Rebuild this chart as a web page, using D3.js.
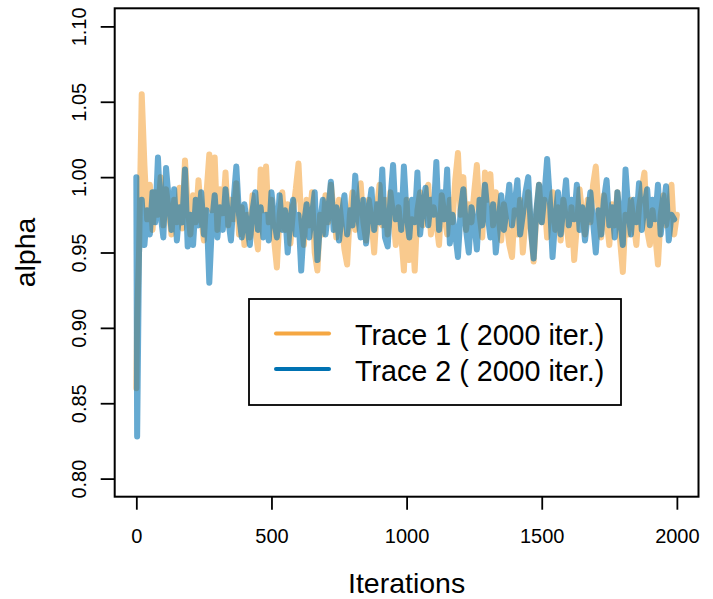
<!DOCTYPE html>
<html>
<head>
<meta charset="utf-8">
<script src="https://cdn.jsdelivr.net/npm/d3@7"></script>
<style>
  body { margin: 0; background: #fff; }
  text { font-family: "Liberation Sans", Arial, sans-serif; }
</style>
</head>
<body>
<div id="diagram"></div>
<script>
// iteration index of each stored value (a burn-in point at 3, then every 10 iterations)
var iterations = [0, 3].concat(d3.range(10, 2001, 10));

// trace 1 (orange)
var trace1 = [
  0.860, 0.905,
  0.950, 1.055, 1.008, 0.972, 0.995, 0.965, 0.990, 0.975, 1.000,
  0.968, 0.992, 0.978, 0.962, 0.985, 0.970, 0.993, 0.966, 1.011, 0.980,
  0.962, 0.988, 0.970, 0.998, 0.974, 0.958, 0.990, 1.015, 0.978, 1.013,
  0.965, 0.992, 0.976, 1.003, 0.968, 0.985, 0.972, 0.996, 0.962, 0.980,
  0.955, 0.975, 0.960, 0.988, 0.966, 0.952, 1.005, 0.978, 1.007, 0.970,
  0.985, 0.958, 0.940, 0.975, 0.990, 0.965, 0.982, 0.956, 0.978, 0.992,
  1.009, 0.972, 0.955, 0.985, 0.968, 0.990, 0.950, 0.938, 0.975, 0.962,
  0.988, 0.970, 0.995, 0.978, 0.960, 0.985, 0.968, 0.952, 0.942, 0.975,
  0.990, 0.965, 0.982, 0.996, 0.970, 0.958, 0.985, 0.972, 0.950, 0.980,
  0.995, 0.968, 0.985, 0.962, 0.990, 0.975, 0.955, 0.980, 0.962, 0.938,
  0.985, 0.945, 0.972, 0.938, 0.978, 0.990, 0.968, 0.985, 0.995, 0.962,
  0.980, 0.970, 0.955, 0.988, 0.975, 0.962, 0.985, 0.970, 0.998, 1.016,
  0.975, 1.000, 0.965, 0.982, 0.970, 0.990, 1.008, 0.975, 0.960, 1.003,
  0.985, 1.002, 0.968, 0.990, 0.975, 0.958, 0.982, 0.970, 0.955, 0.947,
  0.978, 0.962, 0.985, 0.950, 0.972, 0.990, 0.965, 0.944, 0.975, 0.995,
  0.970, 0.985, 0.960, 0.978, 0.990, 0.965, 0.980, 0.958, 0.985, 0.972,
  0.955, 0.980, 0.945, 0.968, 0.992, 0.975, 0.962, 0.985, 0.970, 0.995,
  1.007, 0.978, 0.960, 0.988, 0.972, 0.955, 0.982, 0.968, 0.990, 0.958,
  0.937, 0.975, 0.962, 0.985, 0.970, 0.955, 0.980, 0.992, 1.003, 0.965,
  0.955, 0.978, 0.962, 0.942, 0.975, 0.988, 0.968, 0.980, 0.995, 0.962,
  0.975
];

// trace 2 (blue)
var trace2 = [
  1.000, 0.828,
  0.950, 0.985, 0.955, 0.978, 0.962, 0.990, 0.970, 1.013, 0.975,
  0.960, 1.006, 0.985, 0.965, 0.992, 0.958, 0.980, 0.970, 1.005,
  0.954, 0.975, 0.955, 0.985, 0.968, 0.990, 0.962, 0.978, 0.930, 0.970,
  0.988, 0.960, 0.980, 0.965, 0.992, 0.972, 0.958, 0.985, 1.007, 0.975,
  0.960, 0.982, 0.968, 0.955, 0.978, 0.990, 0.965, 0.980, 0.960, 0.975,
  0.958, 0.990, 0.972, 0.960, 0.988, 0.965, 0.978, 0.950, 0.972, 0.985,
  0.962, 0.975, 0.938, 0.968, 0.982, 0.960, 0.975, 0.990, 0.945, 0.970,
  0.985, 0.962, 0.978, 0.997, 0.965, 0.980, 0.958, 0.975, 0.988, 0.962,
  0.978, 0.968, 1.001, 0.975, 0.960, 0.985, 0.956, 0.978, 0.992, 0.965,
  0.982, 0.970, 1.005, 0.960, 0.954, 0.985, 1.008, 0.972, 0.988, 0.965,
  1.007, 0.975, 0.960, 0.985, 0.970, 1.003, 0.962, 0.980, 0.993, 0.968,
  0.985, 0.975, 1.010, 0.965, 0.990, 0.972, 1.005, 0.956, 0.975, 0.962,
  0.947, 0.978, 0.992, 0.965, 0.950, 0.980, 0.970, 0.952, 0.985, 0.968,
  0.995, 0.975, 0.960, 0.982, 0.950, 0.970, 0.988, 0.965, 0.978, 0.995,
  0.968, 0.982, 0.998, 0.962, 0.975, 0.990, 1.000, 0.965, 0.946, 0.978,
  0.995, 0.970, 0.988, 1.012, 0.985, 0.947, 0.972, 0.990, 0.962, 0.980,
  0.998, 0.968, 0.985, 0.972, 0.995, 0.965, 0.980, 0.958, 0.975, 0.990,
  0.970, 0.950, 0.978, 0.962, 0.985, 0.998, 0.968, 0.980, 0.960, 0.990,
  0.972, 0.955, 1.005, 0.978, 0.962, 0.985, 0.970, 0.996, 0.965, 0.980,
  0.992, 0.968, 0.985, 0.972, 0.995, 0.962, 0.978, 0.994, 0.958, 0.975,
  0.972
];

var xTicks = [0, 500, 1000, 1500, 2000];
var yTicks = [0.80, 0.85, 0.90, 0.95, 1.00, 1.05, 1.10];
var legendLabels = ["Trace 1 ( 2000 iter.)", "Trace 2 ( 2000 iter.)"];
var colors = ["#F5A742", "#0072B2"];

var W = 713, H = 599;
var box = {left: 114.7, right: 698.5, top: 8.3, bottom: 496.7};

var svg = d3.select("#diagram")
  .append("svg")
  .attr("width", W)
  .attr("height", H);

// R style 4% padding around xlim / ylim
var x = d3.scaleLinear()
  .domain([-80, 2080])
  .range([box.left, box.right]);
var y = d3.scaleLinear()
  .domain([0.788, 1.112])
  .range([box.bottom, box.top]);

// traces
var line = d3.line()
  .x(function(d, i) { return x(iterations[i]); })
  .y(function(d) { return y(d); });

[trace1, trace2].forEach(function(tr, k) {
  svg.append("path")
    .datum(tr)
    .attr("d", line)
    .attr("fill", "none")
    .attr("stroke", colors[k])
    .attr("stroke-opacity", 0.6)
    .attr("stroke-width", 6)
    .attr("stroke-linejoin", "round")
    .attr("stroke-linecap", "round");
});

// box
svg.append("rect")
  .attr("x", box.left)
  .attr("y", box.top)
  .attr("width", box.right - box.left)
  .attr("height", box.bottom - box.top)
  .attr("fill", "none")
  .attr("stroke", "#000")
  .attr("stroke-width", 2);

// x axis
var gx = svg.append("g")
  .attr("transform", "translate(0," + box.bottom + ")")
  .call(d3.axisBottom(x).tickValues(xTicks).tickSize(13).tickFormat(d3.format("d")));
gx.select(".domain").remove();
gx.selectAll(".tick line").attr("stroke-width", 1.8);
gx.selectAll(".tick text")
  .attr("y", 46.3)
  .attr("dy", null)
  .style("font-size", "20px")
  .style("font-family", "'Liberation Sans', Arial, sans-serif");

// y axis
var gy = svg.append("g")
  .attr("transform", "translate(" + box.left + ",0)")
  .call(d3.axisLeft(y).tickValues(yTicks).tickSize(14).tickFormat(d3.format(".2f")));
gy.select(".domain").remove();
gy.selectAll(".tick line").attr("stroke-width", 1.8);
gy.selectAll(".tick text")
  .attr("transform", "rotate(-90)")
  .attr("x", 0)
  .attr("y", -28.7)
  .attr("dy", null)
  .attr("text-anchor", "middle")
  .style("font-size", "20px")
  .style("font-family", "'Liberation Sans', Arial, sans-serif");

// axis titles
svg.append("text")
  .attr("x", (box.left + box.right) / 2)
  .attr("y", 593)
  .attr("text-anchor", "middle")
  .style("font-size", "28.5px")
  .text("Iterations");

svg.append("text")
  .attr("transform", "translate(35," + ((box.top + box.bottom) / 2) + ") rotate(-90)")
  .attr("text-anchor", "middle")
  .style("font-size", "28.5px")
  .text("alpha");

// legend
var lg = svg.append("g");
lg.append("rect")
  .attr("x", 249)
  .attr("y", 299)
  .attr("width", 372)
  .attr("height", 106)
  .attr("fill", "#fff")
  .attr("stroke", "#000")
  .attr("stroke-width", 1.8);

legendLabels.forEach(function(lab, k) {
  var ly = 333.5 + k * 35.5;
  lg.append("line")
    .attr("x1", 276)
    .attr("x2", 329)
    .attr("y1", ly)
    .attr("y2", ly)
    .attr("stroke", colors[k])
    .attr("stroke-width", 4)
    .attr("stroke-linecap", "round");
  lg.append("text")
    .attr("x", 355)
    .attr("y", ly + 11.5)
    .style("font-size", "28.7px")
    .text(lab);
});
</script>
</body>
</html>
